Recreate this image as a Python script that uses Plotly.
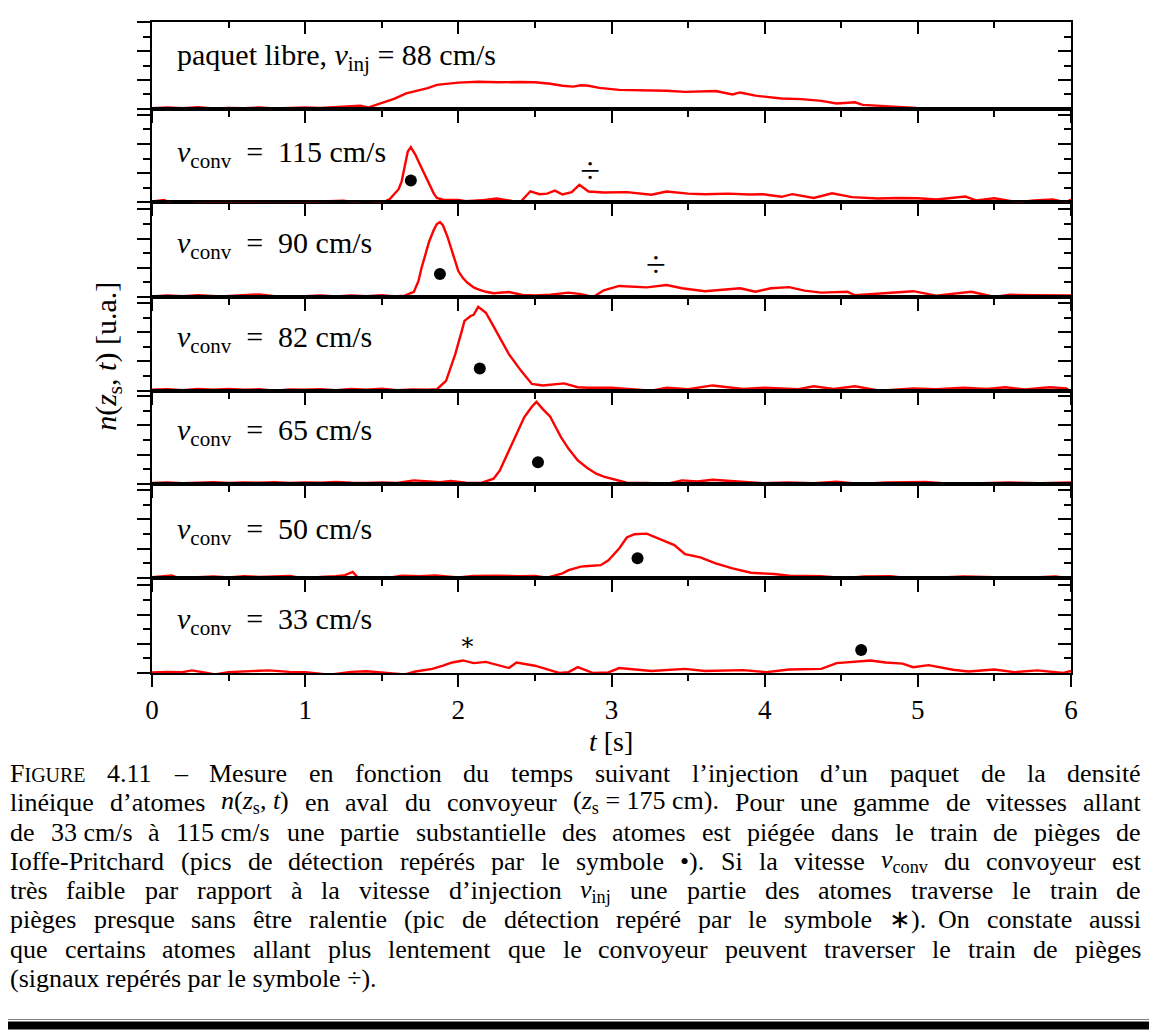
import re
import plotly.graph_objects as go

# ---------------- data ----------------
t_libre = [0, 0.1, 0.2, 0.3, 0.4, 0.5, 0.6, 0.7, 0.8, 0.9, 1.0, 1.1, 1.2, 1.3, 1.36, 1.41, 1.51, 1.58, 1.66, 1.73,
           1.8, 1.86, 1.93, 2.0, 2.13, 2.26, 2.4, 2.5, 2.6, 2.68, 2.75, 2.8, 2.85, 2.92, 3.05, 3.15, 3.23, 3.36, 3.48,
           3.6, 3.68, 3.79, 3.84, 3.94, 4.05, 4.11, 4.24, 4.37, 4.47, 4.53, 4.59, 4.64, 4.77, 4.87, 4.99]
n_libre = [0.03, 0.05, 0.03, 0.06, 0.02, 0.04, 0.03, 0.05, 0.02, 0.04, 0.05, 0.04, 0.07, 0.09, 0.11, 0.05, 0.22,
           0.35, 0.54, 0.62, 0.72, 0.83, 0.88, 0.91, 0.94, 0.92, 0.93, 0.92, 0.87, 0.80, 0.77, 0.82, 0.80, 0.73,
           0.66, 0.65, 0.65, 0.63, 0.59, 0.60, 0.62, 0.50, 0.57, 0.46, 0.40, 0.36, 0.34, 0.28, 0.19, 0.22, 0.23,
           0.14, 0.10, 0.08, 0.04]

t_115 = [0, 0.05, 0.08, 0.15, 0.25, 0.35, 0.5, 0.65, 0.8, 0.88, 1.0, 1.1, 1.25, 1.33, 1.38, 1.45, 1.51, 1.55,
         1.58, 1.61, 1.63, 1.65, 1.67, 1.69, 1.72, 1.74, 1.76, 1.79, 1.81, 1.84, 1.86, 1.9, 2.0, 2.05, 2.15, 2.25,
         2.35, 2.41, 2.47, 2.53, 2.58, 2.63, 2.68, 2.74, 2.79, 2.85, 2.95, 3.1, 3.26, 3.36, 3.5, 3.61, 3.76, 3.9,
         3.99, 4.11, 4.18, 4.32, 4.44, 4.57, 4.74, 4.87, 5.0, 5.12, 5.31, 5.38, 5.5, 5.65, 5.76, 5.88, 5.97, 6.0]
n_115 = [0.03, 0.05, 0.08, -0.12, -0.05, 0.0, 0.0, 0.02, 0.03, 0.04, 0.01, 0.04, 0.06, 0.0, -0.1, -0.02, 0.0,
         0.1, 0.26, 0.45, 0.72, 1.2, 1.74, 1.89, 1.63, 1.4, 1.17, 0.85, 0.60, 0.3, 0.15, 0.09, 0.08, 0.04, 0.07,
         0.13, 0.05, 0.04, 0.38, 0.28, 0.3, 0.40, 0.27, 0.35, 0.60, 0.37, 0.34, 0.35, 0.26, 0.37, 0.30, 0.28,
         0.30, 0.27, 0.28, 0.19, 0.28, 0.15, 0.31, 0.18, 0.13, 0.15, 0.14, 0.1, 0.20, 0.07, 0.14, 0.01, 0.07,
         0.1, 0.0, 0.1]

t_90 = [0, 0.1, 0.2, 0.3, 0.45, 0.6, 0.7, 0.8, 0.9, 1.0, 1.1, 1.2, 1.3, 1.4, 1.5, 1.58, 1.65, 1.71, 1.74, 1.76,
        1.79, 1.81, 1.84, 1.86, 1.88, 1.9, 1.93, 1.96, 2.0, 2.03, 2.06, 2.1, 2.13, 2.18, 2.23, 2.33, 2.42, 2.5,
        2.6, 2.72, 2.8, 2.88, 2.95, 3.05, 3.15, 3.23, 3.36, 3.46, 3.61, 3.72, 3.84, 3.94, 4.04, 4.16, 4.26, 4.37,
        4.54, 4.59, 4.75, 4.97, 5.12, 5.2, 5.35, 5.5, 5.6, 5.76, 5.9, 6.0]
n_90 = [0.02, 0.05, 0.03, 0.06, 0.02, 0.05, 0.09, 0.03, 0.0, 0.03, 0.05, 0.02, 0.05, 0.03, 0.06, 0.02, 0.05,
        0.18, 0.55, 1.0, 1.5, 1.91, 2.3, 2.5, 2.57, 2.45, 2.05, 1.57, 0.89, 0.65, 0.49, 0.33, 0.26, 0.18, 0.13,
        0.17, 0.07, 0.05, 0.08, 0.15, 0.1, 0.0, 0.23, 0.38, 0.34, 0.33, 0.41, 0.30, 0.20, 0.24, 0.30, 0.18, 0.30,
        0.34, 0.22, 0.15, 0.18, 0.06, 0.12, 0.2, 0.05, 0.1, 0.18, 0.0, 0.08, 0.06, 0.04, 0.05]

t_82 = [0, 0.1, 0.2, 0.3, 0.4, 0.5, 0.6, 0.7, 0.8, 0.9, 1.0, 1.1, 1.2, 1.3, 1.4, 1.5, 1.6, 1.7, 1.8, 1.86, 1.92,
        1.98, 2.02, 2.04, 2.08, 2.1, 2.13, 2.18, 2.22, 2.26, 2.33, 2.41, 2.48, 2.55, 2.62, 2.69, 2.78, 2.85, 3.0,
        3.1, 3.26, 3.36, 3.5, 3.66, 3.86, 4.0, 4.22, 4.32, 4.45, 4.59, 4.75, 4.97, 5.12, 5.3, 5.45, 5.57, 5.7,
        5.86, 5.97, 6.0]
n_82 = [0.03, 0.05, 0.02, 0.06, 0.03, 0.06, 0.03, 0.05, 0.0, 0.04, 0.03, 0.05, 0.02, 0.06, 0.03, 0.07, 0.02,
        0.04, 0.03, 0.05, 0.34, 1.25, 2.0, 2.39, 2.56, 2.6, 2.87, 2.67, 2.3, 1.93, 1.25, 0.68, 0.23, 0.18, 0.22,
        0.25, 0.12, 0.1, 0.1, 0.06, 0.0, 0.1, 0.05, 0.18, 0.06, 0.1, 0.05, 0.15, 0.06, 0.15, 0.0, 0.08, 0.05,
        0.1, 0.06, 0.12, 0.04, 0.12, 0.08, -0.05]

t_65 = [0, 0.1, 0.2, 0.3, 0.4, 0.5, 0.6, 0.7, 0.8, 0.9, 1.0, 1.1, 1.2, 1.3, 1.4, 1.5, 1.6, 1.71, 1.8, 1.88, 1.95,
        2.05, 2.15, 2.23, 2.27, 2.30, 2.34, 2.38, 2.43, 2.48, 2.51, 2.55, 2.6, 2.63, 2.67, 2.72, 2.78, 2.84, 2.9,
        2.95, 3.0, 3.1, 3.23, 3.36, 3.46, 3.56, 3.66, 3.79, 3.99, 4.15, 4.32, 4.47, 4.62, 4.8, 5.05, 5.23, 5.45,
        5.6, 5.8, 6.0]
n_65 = [0.03, 0.05, 0.02, 0.04, 0.06, 0.03, 0.05, 0.04, 0.06, 0.03, 0.05, 0.04, 0.07, 0.04, 0.03, 0.05, 0.03,
        0.12, 0.08, 0.06, 0.1, 0.04, 0.03, 0.18, 0.45, 0.80, 1.25, 1.71, 2.28, 2.64, 2.81, 2.57, 2.3, 2.0, 1.6,
        1.2, 0.80, 0.55, 0.35, 0.25, 0.18, 0.04, 0.03, 0.0, 0.12, 0.08, 0.14, 0.1, 0.02, 0.05, 0.02, 0.07, 0.0,
        0.05, 0.07, 0.0, 0.03, 0.05, 0.02, 0.05]

t_50 = [0, 0.05, 0.13, 0.21, 0.3, 0.4, 0.5, 0.6, 0.7, 0.8, 0.9, 1.0, 1.1, 1.2, 1.26, 1.31, 1.34, 1.4, 1.51, 1.63,
        1.75, 1.85, 2.0, 2.1, 2.25, 2.4, 2.5, 2.58, 2.68, 2.72, 2.8, 2.85, 2.93, 2.98, 3.05, 3.1, 3.15, 3.23, 3.31,
        3.41, 3.48, 3.58, 3.68, 3.79, 3.91, 4.06, 4.16, 4.37, 4.52, 4.65, 4.82, 4.97, 5.12, 5.3, 5.5, 5.76, 5.9,
        6.0]
n_50 = [0.02, 0.05, 0.08, -0.1, 0.02, 0.04, 0.01, 0.05, 0.03, 0.04, 0.06, -0.03, 0.03, 0.05, 0.09, 0.2, 0.03,
        0.0, -0.03, 0.07, 0.05, 0.08, 0.01, 0.06, 0.07, 0.05, 0.06, 0.0, 0.15, 0.26, 0.38, 0.4, 0.43, 0.60, 1.0,
        1.38, 1.49, 1.51, 1.34, 1.12, 0.81, 0.70, 0.49, 0.32, 0.17, 0.13, 0.07, 0.05, -0.02, 0.04, 0.05, -0.03,
        0.0, 0.04, 0.02, 0.01, 0.04, -0.03]

t_33 = [0, 0.1, 0.2, 0.26, 0.33, 0.41, 0.5, 0.6, 0.76, 0.9, 1.0, 1.16, 1.3, 1.4, 1.51, 1.65, 1.72, 1.83, 1.9,
        1.96, 2.03, 2.10, 2.18, 2.26, 2.33, 2.38, 2.5, 2.63, 2.66, 2.72, 2.78, 2.88, 2.98, 3.05, 3.15, 3.26, 3.48,
        3.61, 3.86, 4.01, 4.16, 4.37, 4.47, 4.62, 4.69, 4.79, 4.9, 4.97, 5.07, 5.23, 5.33, 5.5, 5.63, 5.78, 5.95,
        6.0]
n_33 = [0.02, 0.04, 0.03, 0.09, 0.03, -0.05, 0.03, 0.06, 0.09, 0.04, 0.03, -0.06, 0.04, 0.06, 0.02, -0.05, 0.05,
        0.14, 0.25, 0.36, 0.43, 0.34, 0.38, 0.28, 0.17, 0.36, 0.25, 0.05, 0.0, 0.03, 0.20, 0.0, 0.02, 0.17, 0.12,
        0.07, 0.14, 0.07, 0.1, 0.03, 0.12, 0.14, 0.34, 0.40, 0.43, 0.36, 0.32, 0.20, 0.27, 0.11, 0.05, 0.12, 0.03,
        0.09, 0.0, 0.07]

NB = "\u00a0"
panel_labels = ["paquet libre, <i>v</i><sub>inj</sub> = 88 cm/s",
                "<i>v</i><sub>conv</sub>" + NB + " =" + NB + " 115 cm/s",
                "<i>v</i><sub>conv</sub>" + NB + " =" + NB + " 90 cm/s",
                "<i>v</i><sub>conv</sub>" + NB + " =" + NB + " 82 cm/s",
                "<i>v</i><sub>conv</sub>" + NB + " =" + NB + " 65 cm/s",
                "<i>v</i><sub>conv</sub>" + NB + " =" + NB + " 50 cm/s",
                "<i>v</i><sub>conv</sub>" + NB + " =" + NB + " 33 cm/s"]
label_n = [1.8, 1.64, 1.77, 1.77, 1.77, 1.6, 1.77]

# trapped-atom peaks (symbol •): panel index, t, n
dot_panel = [1, 2, 3, 4, 5, 6]
dot_t = [1.69, 1.88, 2.14, 2.52, 3.17, 4.63]
dot_n = [0.75, 0.79, 0.76, 0.74, 0.67, 0.79]
# slow atoms (symbol ÷)
div_panel = [1, 2]
div_t = [2.86, 3.29]
div_n = [0.96, 1.0]
# unslowed atoms (symbol *)
star_panel = [6]
star_t = [2.06]
star_n = [1.0]

x_ticks = [0, 1, 2, 3, 4, 5, 6]

caption_lines = [
    "F<span style='font-size:20px'>IGURE</span> 4.11 – Mesure en fonction du temps suivant l’injection d’un paquet de la densité",
    "linéique d’atomes <i>n</i>(<i>z</i><sub>s</sub>," + NB + "<i>t</i>) en aval du convoyeur (<i>z</i><sub>s</sub>" + NB + "=" + NB + "175" + NB + "cm). Pour une gamme de vitesses allant",
    "de 33" + NB + "cm/s à 115" + NB + "cm/s une partie substantielle des atomes est piégée dans le train de pièges de",
    "Ioffe-Pritchard (pics de détection repérés par le symbole •). Si la vitesse <i>v</i><sub>conv</sub> du convoyeur est",
    "très faible par rapport à la vitesse d’injection <i>v</i><sub>inj</sub> une partie des atomes traverse le train de",
    "pièges presque sans être ralentie (pic de détection repéré par le symbole ∗). On constate aussi",
    "que certains atomes allant plus lentement que le convoyeur peuvent traverser le train de pièges",
    "(signaux repérés par le symbole ÷).",
]

# ---------------- geometry (screen pixels; page has an 8 px body margin) ----------------
OFF = 8
W, H = 1157 - OFF, 1030 - OFF
PL, PR = 152, 1071          # plot left/right (screen px)
PT, PB = 20, 673.3          # plot top/bottom (screen px)
bounds = [20, 107.3, 201, 296, 390, 483.5, 577.7, 673.3]
unit_px = [29.1, 29.3, 29.3, 29.3, 29.3, 29.3, 29.3]
PH = PB - PT
FONT = "Liberation Serif"
CAP_FS = 26


def ypaper(px):
    return (PB - px) / PH


def xpaper(px):
    return (px - PL) / (PR - PL)


# Times / Liberation Serif advance widths (1/1000 em)
ROMAN = {" ": 250, NB: 250, "!": 333, "'": 333, "’": 333, "(": 333, ")": 333, "*": 500, "+": 564, ",": 250,
         "-": 333, ".": 250, "/": 278, ":": 278, ";": 278, "=": 564, "?": 444, "–": 500, "•": 350, "÷": 564,
         "∗": 620,
         "A": 722, "B": 667, "C": 667, "D": 722, "E": 611, "F": 556, "G": 722, "H": 722, "I": 333, "J": 389,
         "K": 722, "L": 611, "M": 889, "N": 722, "O": 722, "P": 556, "Q": 722, "R": 667, "S": 556, "T": 611,
         "U": 722, "V": 722, "W": 944, "X": 722, "Y": 722, "Z": 611,
         "a": 444, "b": 500, "c": 444, "d": 500, "e": 444, "f": 333, "g": 500, "h": 500, "i": 278, "j": 278,
         "k": 500, "l": 278, "m": 778, "n": 500, "o": 500, "p": 500, "q": 500, "r": 333, "s": 389, "t": 278,
         "u": 500, "v": 500, "w": 722, "x": 500, "y": 500, "z": 444,
         "é": 444, "è": 444, "ê": 444, "à": 444}
ITAL = {"n": 500, "z": 389, "t": 278, "v": 444}


def html_width(html, fs):
    w, scale, italic = 0.0, 1.0, False
    for tok in re.split(r"(<[^>]+>)", html):
        if tok.startswith("<"):
            tg = tok.lower()
            if tg.startswith("<sub"):
                scale = 0.7
            elif tg == "</sub>":
                scale = 1.0
            elif tg == "<i>":
                italic = True
            elif tg == "</i>":
                italic = False
            elif tg.startswith("<span"):
                m = re.search(r"font-size:(\d+)px", tok)
                scale = float(m.group(1)) / fs if m else 1.0
            elif tg == "</span>":
                scale = 1.0
            continue
        for ch in tok:
            if ch.isdigit():
                v = 500
            elif italic and ch in ITAL:
                v = ITAL[ch]
            else:
                v = ROMAN.get(ch, 500)
            w += v * scale
    return w * fs / 1000.0


series = [(t_libre, n_libre), (t_115, n_115), (t_90, n_90), (t_82, n_82),
          (t_65, n_65), (t_50, n_50), (t_33, n_33)]

fig = go.Figure()
layout = dict(
    width=W, height=H,
    margin=dict(l=PL - OFF, r=W - (PR - OFF), t=PT - OFF, b=H - (PB - OFF), pad=0),
    paper_bgcolor="white", plot_bgcolor="rgba(0,0,0,0)",
    showlegend=False,
    font=dict(family=FONT, size=26, color="black"),
)
annotations = []
tickstyle = dict(tickwidth=2, tickcolor="black")

for i, (tt, nn) in enumerate(series):
    k = i + 1
    xr = "x" if k == 1 else f"x{k}"
    yr = "y" if k == 1 else f"y{k}"
    yo = f"y{7 + k}"
    top = (bounds[i + 1] - bounds[i]) / unit_px[i]
    dom = [ypaper(bounds[i + 1]), ypaper(bounds[i])]

    fig.add_trace(go.Scatter(x=tt, y=nn, mode="lines", xaxis=xr, yaxis=yr,
                             line=dict(color="#ff0000", width=2.4), hoverinfo="skip"))
    fig.add_trace(go.Scatter(x=[], y=[], xaxis=xr, yaxis=yo, mode="lines"))

    layout["xaxis" if k == 1 else f"xaxis{k}"] = dict(
        domain=[0, 1], range=[0, 6], anchor=yr, showgrid=False, zeroline=False,
        showline=True, linecolor="black", linewidth=2, mirror=True,
        ticks="outside", ticklen=12, tickvals=x_ticks, **tickstyle,
        minor=dict(dtick=0.5, tick0=0, ticks="outside", ticklen=6, **tickstyle),
        showticklabels=(k == 7), tickfont=dict(family=FONT, size=27),
        ticklabelstandoff=0, layer="below traces")
    layout["yaxis" if k == 1 else f"yaxis{k}"] = dict(
        domain=dom, range=[0, top], anchor=xr, showgrid=False, zeroline=False,
        showline=True, linecolor="black", linewidth=2, mirror=True,
        ticks="outside", ticklen=13, dtick=1, tick0=0, **tickstyle,
        minor=dict(dtick=0.5, tick0=0, ticks="outside", ticklen=7, **tickstyle),
        showticklabels=False, layer="below traces")
    layout[f"yaxis{7 + k}"] = dict(
        overlaying=yr, side="right", anchor=xr, range=[0, top], showgrid=False,
        zeroline=False, showline=False, ticks="inside", ticklen=13, dtick=1, tick0=0,
        **tickstyle,
        minor=dict(dtick=0.5, tick0=0, ticks="inside", ticklen=7, **tickstyle),
        showticklabels=False)

    annotations.append(dict(x=0.148, y=label_n[i], xref=xr, yref=yr,
                            text=panel_labels[i], showarrow=False, xanchor="left",
                            yanchor="middle", font=dict(family=FONT, size=30)))

# top ticks of the first panel pointing inward
fig.add_trace(go.Scatter(x=[], y=[], xaxis="x8", yaxis="y", mode="lines"))
layout["xaxis8"] = dict(overlaying="x", side="top", anchor="y", range=[0, 6],
                        showgrid=False, zeroline=False, showline=False,
                        ticks="inside", ticklen=12, tickvals=x_ticks, **tickstyle,
                        minor=dict(dtick=0.5, tick0=0, ticks="inside", ticklen=6, **tickstyle),
                        showticklabels=False)

# markers
for p, t, n in zip(dot_panel, dot_t, dot_n):
    k = p + 1
    fig.add_trace(go.Scatter(x=[t], y=[n], mode="markers", xaxis=f"x{k}", yaxis=f"y{k}",
                             marker=dict(color="black", size=12), cliponaxis=False))
for p, t, n in zip(div_panel, div_t, div_n):
    k = p + 1
    fig.add_trace(go.Scatter(x=[t], y=[n], mode="text", text=["÷"], xaxis=f"x{k}", yaxis=f"y{k}",
                             textfont=dict(family=FONT, size=36, color="black"),
                             textposition="middle center", cliponaxis=False))
for p, t, n in zip(star_panel, star_t, star_n):
    k = p + 1
    fig.add_trace(go.Scatter(x=[t], y=[n], mode="text", text=["∗"], xaxis=f"x{k}", yaxis=f"y{k}",
                             textfont=dict(family="DejaVu Serif", size=24, color="black"),
                             textposition="middle center", cliponaxis=False))

# axis titles
annotations.append(dict(x=xpaper(611), y=ypaper(742), xref="paper", yref="paper",
                        text="<i>t</i> [s]", showarrow=False, xanchor="center", yanchor="middle",
                        font=dict(family=FONT, size=28)))
annotations.append(dict(x=xpaper(108), y=ypaper(356), xref="paper", yref="paper",
                        text="<i>n</i>(<i>z</i><sub>s</sub>, <i>t</i>) [u.a.]", textangle=-90,
                        showarrow=False, xanchor="center", yanchor="middle",
                        font=dict(family=FONT, size=30)))

# caption: justified lines, words placed one by one
cap_y = [774, 803, 833, 862, 892, 921, 951, 980]
CAP_L, CAP_R = 9, 1140
for li, (line, yy) in enumerate(zip(caption_lines, cap_y)):
    if li == len(caption_lines) - 1:
        annotations.append(dict(x=xpaper(CAP_L), y=ypaper(yy), xref="paper", yref="paper",
                                text=line, showarrow=False, xanchor="left", yanchor="middle",
                                borderpad=0, font=dict(family=FONT, size=CAP_FS)))
        continue
    words = re.split(r" (?![^<]*>)", line)
    widths = [html_width(w, CAP_FS) for w in words]
    gap = (CAP_R - CAP_L - sum(widths)) / (len(words) - 1)
    x = CAP_L
    for w, wd in zip(words, widths):
        annotations.append(dict(x=xpaper(x), y=ypaper(yy), xref="paper", yref="paper",
                                text=w, showarrow=False, xanchor="left", yanchor="middle",
                                borderpad=0, font=dict(family=FONT, size=CAP_FS)))
        x += wd + gap

layout["annotations"] = annotations
layout["shapes"] = [
    dict(type="rect", xref="paper", yref="paper", x0=xpaper(6), x1=xpaper(1170),
         y0=ypaper(1021), y1=ypaper(2), line=dict(color="#7f7f7f", width=1), layer="below"),
    dict(type="rect", xref="paper", yref="paper", x0=xpaper(6), x1=xpaper(1170),
         y0=ypaper(1031), y1=ypaper(1023), line=dict(width=0), fillcolor="black", layer="above"),
]
fig.update_layout(**layout)
fig.write_html("out.html")
